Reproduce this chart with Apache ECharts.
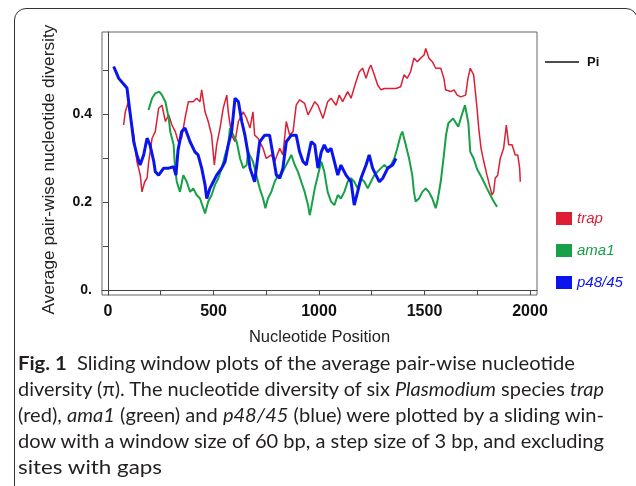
<!DOCTYPE html>
<html>
<head>
<meta charset="utf-8">
<script src="https://cdn.jsdelivr.net/npm/echarts@6/dist/echarts.min.js"></script>
<style>
html, body { margin: 0; padding: 0; background: #fff; }
#wrap { position: relative; width: 636px; height: 486px; overflow: hidden; }
#frame { position: absolute; left: 14px; top: 8px; width: 624px; height: 540px; border: 1.5px solid #333; border-radius: 12px; box-sizing: border-box; }
#chart { position: absolute; left: 0; top: 0; width: 636px; height: 486px; }
.cap { position: absolute; left: 18px; font-family: "Lato"; font-size: 19.5px; line-height: 20px; color: #231f20; white-space: nowrap; transform-origin: 0 0; }
</style>
</head>
<body>
<div id="wrap">
  <div id="frame"></div>
  <div id="chart"></div>
  <div class="cap" data-w="557" style="top:353px"><b>Fig. 1</b>&nbsp; Sliding window plots of the average pair-wise nucleotide</div>
  <div class="cap" data-w="586" style="top:379px">diversity (π). The nucleotide diversity of six <i>Plasmodium</i> species <i>trap</i></div>
  <div class="cap" data-w="586" style="top:405px">(red), <i>ama1</i> (green) and <i>p48/45</i> (blue) were plotted by a sliding win-</div>
  <div class="cap" data-w="586" style="top:431px">dow with a window size of 60 bp, a step size of 3 bp, and excluding</div>
  <div class="cap" data-w="144" style="top:457px">sites with gaps</div>
</div>
<script>
// nucleotide diversity (pi): [position, pi]
const trap = [
  [74,0.375],[82,0.405],[95,0.425],[106,0.398],[122,0.352],[137,0.292],[153,0.261],[161,0.223],[174,0.246],[185,0.254],
  [193,0.292],[209,0.345],[224,0.360],[240,0.413],[256,0.420],[272,0.383],[288,0.398],[303,0.375],[319,0.360],[333,0.337],
  [349,0.345],[365,0.390],[381,0.428],[404,0.428],[420,0.436],[436,0.428],[444,0.455],[460,0.405],[475,0.383],[491,0.352],
  [504,0.284],[515,0.330],[531,0.368],[546,0.413],[563,0.443],[570,0.405],[586,0.352],[602,0.337],[618,0.383],[641,0.405],
  [657,0.390],[673,0.368],[687,0.405],[695,0.352],[711,0.345],[735,0.322],[750,0.299],[774,0.307],[790,0.292],[814,0.322],
  [829,0.307],[845,0.383],[861,0.352],[877,0.360],[892,0.420],[908,0.432],[932,0.424],[948,0.398],[964,0.413],[980,0.428],
  [995,0.420],[1019,0.390],[1041,0.428],[1057,0.436],[1081,0.420],[1096,0.443],[1112,0.428],[1136,0.451],[1152,0.436],[1175,0.473],
  [1191,0.496],[1207,0.504],[1223,0.481],[1238,0.504],[1246,0.511],[1262,0.489],[1278,0.466],[1294,0.455],[1310,0.458],[1341,0.458],
  [1365,0.458],[1387,0.462],[1403,0.489],[1418,0.481],[1434,0.496],[1450,0.527],[1466,0.519],[1482,0.527],[1498,0.534],[1506,0.549],
  [1521,0.527],[1537,0.519],[1553,0.504],[1577,0.504],[1592,0.481],[1600,0.455],[1624,0.451],[1640,0.455],[1655,0.443],[1672,0.439],
  [1695,0.443],[1706,0.481],[1717,0.504],[1733,0.489],[1741,0.451],[1749,0.413],[1757,0.368],[1768,0.322],[1781,0.292],[1796,0.261],
  [1812,0.231],[1820,0.216],[1828,0.223],[1835,0.254],[1847,0.261],[1859,0.299],[1875,0.322],[1888,0.375],[1899,0.330],[1915,0.330],
  [1930,0.307],[1942,0.307],[1951,0.277],[1954,0.246]
];
const ama1 = [
  [192,0.409],[209,0.436],[224,0.447],[243,0.451],[256,0.443],[272,0.428],[288,0.390],[295,0.360],[311,0.330],[318,0.277],
  [326,0.246],[341,0.223],[357,0.261],[373,0.246],[389,0.223],[404,0.231],[420,0.216],[436,0.208],[452,0.186],[460,0.174],
  [475,0.201],[491,0.216],[507,0.239],[523,0.254],[539,0.277],[555,0.307],[570,0.330],[578,0.368],[594,0.352],[610,0.337],
  [626,0.299],[641,0.277],[657,0.284],[664,0.314],[687,0.292],[703,0.261],[719,0.231],[735,0.208],[746,0.186],[758,0.208],
  [774,0.223],[790,0.246],[806,0.261],[821,0.261],[837,0.277],[853,0.292],[869,0.307],[885,0.284],[900,0.269],[916,0.246],
  [932,0.223],[948,0.193],[956,0.170],[963,0.186],[980,0.231],[995,0.261],[1011,0.292],[1025,0.269],[1041,0.223],[1057,0.201],
  [1073,0.193],[1089,0.216],[1104,0.208],[1120,0.223],[1136,0.246],[1152,0.254],[1167,0.246],[1183,0.231],[1199,0.254],[1215,0.246],
  [1231,0.231],[1246,0.246],[1262,0.261],[1278,0.269],[1294,0.277],[1310,0.284],[1326,0.277],[1341,0.284],[1357,0.299],[1371,0.322],
  [1387,0.352],[1395,0.360],[1411,0.330],[1427,0.299],[1442,0.261],[1450,0.223],[1458,0.201],[1474,0.208],[1490,0.223],[1506,0.231],
  [1521,0.223],[1537,0.208],[1553,0.186],[1561,0.201],[1577,0.246],[1592,0.307],[1602,0.352],[1613,0.379],[1636,0.390],[1660,0.371],
  [1684,0.409],[1692,0.420],[1708,0.379],[1717,0.314],[1733,0.299],[1749,0.275],[1765,0.261],[1781,0.246],[1796,0.231],[1812,0.216],
  [1828,0.201],[1844,0.189]
];
const p48 = [
  [27,0.508],[51,0.481],[90,0.459],[98,0.428],[114,0.368],[122,0.337],[137,0.307],[152,0.284],[169,0.307],[185,0.345],
  [199,0.330],[217,0.292],[224,0.269],[240,0.261],[264,0.277],[288,0.277],[311,0.280],[322,0.261],[332,0.318],[349,0.360],
  [365,0.368],[389,0.337],[412,0.314],[427,0.307],[444,0.277],[460,0.239],[468,0.208],[483,0.231],[499,0.246],[515,0.261],
  [539,0.277],[555,0.292],[570,0.330],[586,0.360],[602,0.436],[618,0.428],[634,0.383],[649,0.352],[665,0.307],[673,0.277],
  [695,0.246],[719,0.337],[743,0.352],[766,0.352],[782,0.307],[798,0.261],[814,0.254],[829,0.277],[845,0.337],[869,0.352],
  [892,0.352],[908,0.314],[924,0.292],[940,0.284],[963,0.337],[980,0.330],[995,0.277],[1011,0.314],[1025,0.330],[1041,0.314],
  [1057,0.322],[1073,0.292],[1089,0.261],[1104,0.284],[1128,0.261],[1152,0.246],[1167,0.193],[1183,0.223],[1199,0.254],[1223,0.284],
  [1238,0.307],[1254,0.277],[1270,0.261],[1286,0.246],[1302,0.254],[1326,0.277],[1349,0.284],[1365,0.299]
];

const xTicks = [0, 250, 500, 750, 1000, 1250, 1500, 1750, 2000];
const xLabels = [0, 500, 1000, 1500, 2000];
const yTicks = [0, 0.1, 0.2, 0.3, 0.4, 0.5];
const yLabels = [0, 0.2, 0.4];

const RED = '#dc1f35', GREEN = '#17a047', BLUE = '#0a14ee';
const AX = '#444';

const chart = echarts.init(document.getElementById('chart'));
chart.setOption({
  animation: false,
  grid: { left: 102, right: 99, top: 32, bottom: 191, show: true, borderColor: '#666', borderWidth: 1 },
  xAxis: {
    type: 'value', min: -28.4, max: 2033.2,
    splitLine: { show: false },
    axisLine: { lineStyle: { color: AX } },
    axisTick: { customValues: xTicks, length: 5, lineStyle: { color: AX } },
    axisLabel: { customValues: xLabels, margin: 9, fontSize: 16, fontWeight: 'bold', color: '#111', fontFamily: 'Liberation Sans',
      formatter: v => String(v) },
    name: 'Nucleotide Position', nameLocation: 'middle', nameGap: 34,
    nameTextStyle: { fontSize: 16.5, color: '#222', fontFamily: 'Liberation Sans' }
  },
  yAxis: {
    type: 'value', min: -0.01136, max: 0.5864,
    splitLine: { show: false },
    axisLine: { lineStyle: { color: AX } },
    axisTick: { customValues: yTicks, length: 5, lineStyle: { color: AX } },
    axisLabel: { customValues: yLabels, margin: 10, fontSize: 14, fontWeight: 'bold', color: '#111', fontFamily: 'Liberation Sans',
      formatter: v => v === 0 ? '0.' : v.toFixed(1) },
    name: 'Average pair-wise nucleotide diversity', nameLocation: 'middle', nameGap: 44,
    nameTextStyle: { fontSize: 17.3, color: '#222', fontFamily: 'Liberation Sans', padding: [0, 12, 0, 0] }
  },
  legend: {
    orient: 'vertical', left: 551, top: 206, itemWidth: 16, itemHeight: 13, itemGap: 17, icon: 'rect',
    textStyle: { fontStyle: 'italic', fontSize: 15, fontFamily: 'Liberation Sans' },
    data: [
      { name: 'trap', textStyle: { color: RED } },
      { name: 'ama1', textStyle: { color: GREEN } },
      { name: 'p48/45', textStyle: { color: BLUE } }
    ]
  },
  graphic: [
    { type: 'line', shape: { x1: 545, y1: 62, x2: 579, y2: 62 }, style: { stroke: '#111', lineWidth: 1.3 } },
    { type: 'text', x: 587, y: 62, style: { text: 'Pi', font: 'bold 13px "Liberation Sans"', fill: '#111', verticalAlign: 'middle' } }
  ],
  series: [
    { name: 'trap', type: 'line', data: trap, showSymbol: false, color: RED, lineStyle: { width: 1.5 } },
    { name: 'ama1', type: 'line', data: ama1, showSymbol: false, color: GREEN, lineStyle: { width: 2 } },
    { name: 'p48/45', type: 'line', data: p48, showSymbol: false, color: BLUE, lineStyle: { width: 3 } }
  ]
});

function fitCaption() {
  document.querySelectorAll('.cap').forEach(el => {
    el.style.transform = 'none';
    const w = el.getBoundingClientRect().width;
    el.style.transform = 'scaleX(' + (+el.dataset.w / w) + ')';
  });
}
fitCaption();
if (document.fonts) document.fonts.ready.then(fitCaption);
</script>
</body>
</html>
